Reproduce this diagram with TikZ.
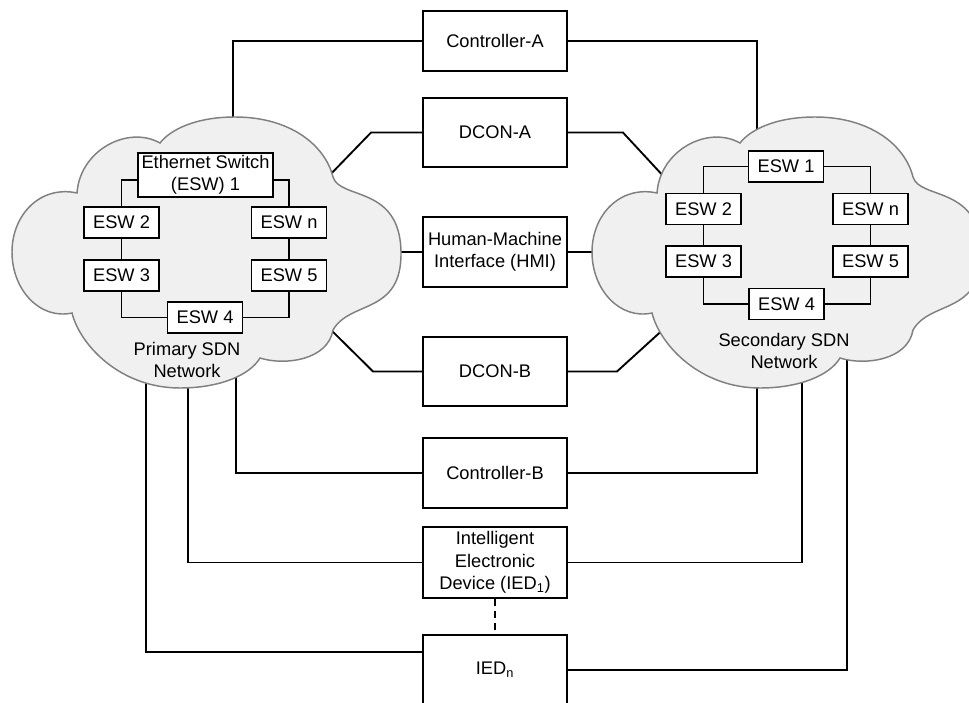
\documentclass[tikz,border=0pt]{standalone}
\usepackage{fontspec}
\setmainfont{Liberation Sans}
\begin{document}
\begin{tikzpicture}[x=0.75pt,y=-0.75pt,
  txt/.style={font=\fontsize{13.7}{16.8}\selectfont},
  box/.style={txt, draw=black, line width=1.4pt, fill=white, inner sep=0pt,
    align=center, minimum width=108pt, minimum height=52.5pt},
  esw/.style={txt, draw=black, line width=1.4pt, fill=white, inner sep=0pt,
    align=center, minimum width=56.25pt, minimum height=23.25pt},
  link/.style={draw=black, line width=1.4pt},
  cloudstyle/.style={fill=black!6, draw=black!50, line width=1.1pt},
  netlabel/.style={txt, align=center, inner sep=0pt},
  cloudshape/.pic={
    \path[cloudstyle] (160,143) .. controls (128,125) and (80,150) .. (77,193)
      .. controls (40,185) and (12,215) .. (12,252)
      .. controls (12,290) and (40,320) .. (72,313)
      .. controls (80,345) and (120,388) .. (180,388)
      .. controls (220,388) and (250,375) .. (260,358)
      .. controls (285,366) and (328,360) .. (333,330)
      .. controls (350,300) and (402,315) .. (401,252)
      .. controls (400,185) and (340,200) .. (333,177)
      .. controls (325,145) and (290,117) .. (235,117)
      .. controls (195,117) and (170,130) .. (160,143) -- cycle;
  }
]
\useasboundingbox (0,0) rectangle (969,702);
\clip (0,0) rectangle (969,702);

% central column
\node[box, minimum height=45pt] (ctrlA) at (495,41) {Controller-A};
\node[box, minimum height=51.75pt] (dconA) at (495,132.5) {DCON-A};
\node[box] (hmi) at (495,252) {Human-Machine\\Interface (HMI)};
\node[box, minimum height=51.75pt] (dconB) at (495,371.5) {DCON-B};
\node[box] (ctrlB) at (495,473) {Controller-B};
\node[box, minimum height=53.25pt] (ied1) at (495,562.5) {Intelligent\\Electronic\\Device (IED\textsubscript{1})};
\node[box] (iedn) at (495,670) {IED\textsubscript{n}};

% attachment points on the two clouds
\coordinate (lcA) at (233,130);
\coordinate (rcA) at (757,140);
\coordinate (lcB) at (236,365);
\coordinate (rcB) at (757,375);
\coordinate (lc1) at (188,375);
\coordinate (rc1) at (802,370);
\coordinate (lcN) at (146,370);
\coordinate (rcN) at (847,350);
\coordinate (ldA) at (326,179);
\coordinate (rdA) at (666,179);
\coordinate (ldB) at (328,327);
\coordinate (rdB) at (667,326);
\coordinate (lh) at (396,252);
\coordinate (rh) at (596,252);

% links from the central column to both networks
\draw[link] (ctrlA.west) -| (lcA);
\draw[link] (ctrlA.east) -| (rcA);
\draw[link] (dconA.west) -- ++(-51,0) -- (ldA);
\draw[link] (dconA.east) -- ++(55,0) -- (rdA);
\draw[link] (hmi.west) -- (lh);
\draw[link] (hmi.east) -- (rh);
\draw[link] (dconB.west) -- ++(-49,0) -- (ldB);
\draw[link] (dconB.east) -- ++(49,0) -- (rdB);
\draw[link] (ctrlB.west) -| (lcB);
\draw[link] (ctrlB.east) -| (rcB);
\draw[link] (ied1.west) -| (lc1);
\draw[link] (ied1.east) -| (rc1);
\draw[link] ([yshift=-13.5pt]iedn.north west) -| (lcN);
\draw[link] (iedn.east) -| (rcN);
\draw[draw=black, line width=1.2pt, dash pattern=on 5.5pt off 3.5pt] (ied1.south) -- (iedn.north);

% the two SDN clouds
\pic at (0,0) {cloudshape};
\pic at (580,0) {cloudshape};

% primary ring
\node[esw, minimum width=101.25pt, minimum height=33pt,
  font=\fontsize{13.7}{16.5}\selectfont] (lesw1) at (205.5,175) {Ethernet Switch\\(ESW) 1};
\node[esw] (lesw2) at (121.5,222.5) {ESW 2};
\node[esw] (lesw3) at (121.5,275.5) {ESW 3};
\node[esw] (lesw4) at (205,317.5) {ESW 4};
\node[esw] (leswn) at (289,222.5) {ESW n};
\node[esw] (lesw5) at (289,275.5) {ESW 5};
\draw[link] ([yshift=-3.75pt]lesw1.west) -| (lesw2.north);
\draw[link] ([yshift=-3.75pt]lesw1.east) -| (leswn.north);
\draw[link] (lesw2) -- (lesw3);
\draw[link] (lesw3.south) |- (lesw4.west);
\draw[link] (lesw4.east) -| (lesw5.south);
\draw[link] (leswn) -- (lesw5);
\node[netlabel] (lnet) at (187,360) {Primary SDN\\Network};

% secondary ring
\node[esw] (resw1) at (786,166.5) {ESW 1};
\node[esw] (resw2) at (703.5,209) {ESW 2};
\node[esw] (resw3) at (703.5,261.5) {ESW 3};
\node[esw] (resw4) at (786.5,304) {ESW 4};
\node[esw] (reswn) at (870.5,209) {ESW n};
\node[esw] (resw5) at (870.5,261.5) {ESW 5};
\draw[link] (resw1.west) -| (resw2.north);
\draw[link] (resw1.east) -| (reswn.north);
\draw[link] (resw2) -- (resw3);
\draw[link] (resw3.south) |- (resw4.west);
\draw[link] (resw4.east) -| (resw5.south);
\draw[link] (reswn) -- (resw5);
\node[netlabel] (rnet) at (784,351) {Secondary SDN\\Network};
\end{tikzpicture}
\end{document}
